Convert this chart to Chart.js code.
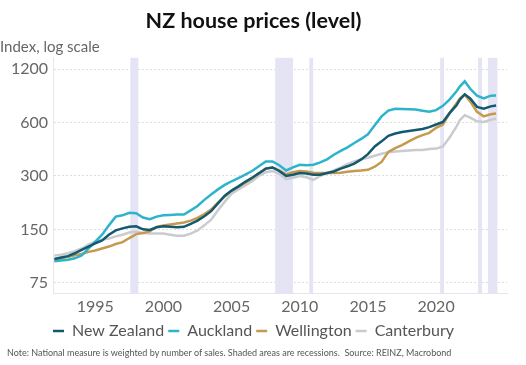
<!DOCTYPE html>
<html>
<head>
<meta charset="utf-8">
<script src="https://cdn.jsdelivr.net/npm/chart.js@4"></script>
<style>
  body { margin: 0; background: #fff; }
  #wrap { position: relative; width: 526px; height: 365px; }
  #note { position: absolute; left: 7px; top: 347px; font: 9px Lato, sans-serif; color: #555; white-space: nowrap; }
</style>
</head>
<body>
<div id="wrap">
  <canvas id="myChart" width="526" height="365"></canvas>
  <div id="note">Note: National measure is weighted by number of sales. Shaded areas are recessions.&nbsp; Source: REINZ, Macrobond</div>
</div>
<script>
// decimal years of the read-off points
var years = [1992.0, 1992.5, 1993.0, 1993.5, 1994.0, 1994.5, 1995.0, 1995.5, 1996.0, 1996.5,
  1997.0, 1997.5, 1998.0, 1998.5, 1999.0, 1999.5, 2000.0, 2000.5, 2001.0, 2001.5,
  2002.0, 2002.5, 2003.0, 2003.5, 2004.0, 2004.5, 2005.0, 2005.5, 2006.0, 2006.5,
  2007.0, 2007.5, 2008.0, 2008.5, 2009.0, 2009.5, 2010.0, 2010.5, 2011.0, 2011.5,
  2012.0, 2012.5, 2013.0, 2013.5, 2014.0, 2014.5, 2015.0, 2015.5, 2016.0, 2016.5,
  2017.0, 2017.5, 2018.0, 2018.5, 2019.0, 2019.5, 2020.0, 2020.5, 2021.0, 2021.5,
  2021.75, 2022.1, 2022.5, 2023.0, 2023.5, 2024.0, 2024.4];

var newZealand = [102, 104, 106, 110, 115, 120, 125, 130, 140, 148,
  152, 155, 156, 150, 149, 154, 156, 155, 154, 155,
  161, 168, 178, 190, 210, 232, 248, 262, 278, 293,
  310, 330, 335, 320, 300, 305, 312, 310, 305, 305,
  312, 318, 330, 340, 352, 372, 398, 440, 470, 505,
  520, 530, 538, 545, 552, 565, 585, 605, 680, 750,
  810, 865, 820, 735, 718, 740, 748];

var auckland = [99, 100, 101, 103, 107, 117, 128, 140, 158, 177,
  180, 186, 185, 175, 171, 177, 180, 181, 182, 182,
  192, 203, 220, 236, 252, 267, 280, 292, 305, 320,
  340, 362, 362, 345, 322, 335, 347, 345, 347, 358,
  372, 395, 415, 435, 460, 485, 515, 580, 650, 700,
  718, 715, 712, 710, 700, 690, 705, 745, 810, 900,
  960, 1025, 930, 850, 820, 850, 852];

var wellington = [100, 103, 105, 107, 109, 112, 114, 117, 120, 124,
  127, 134, 141, 143, 146, 155, 158, 160, 162, 164,
  168, 174, 183, 194, 212, 230, 248, 260, 275, 290,
  312, 330, 335, 322, 306, 315, 320, 318, 313, 312,
  312, 312, 313, 317, 320, 322, 325, 338, 360, 410,
  430, 448, 470, 492, 510, 525, 560, 585, 680, 770,
  820, 862, 790, 690, 650, 668, 675];

var canterbury = [107, 108, 110, 113, 117, 123, 128, 131, 133, 137,
  140, 144, 146, 143, 142, 142, 142, 140, 138, 138,
  142, 148, 158, 170, 192, 215, 238, 252, 265, 280,
  300, 315, 320, 308, 288, 293, 300, 295, 285, 300,
  310, 322, 335, 350, 362, 372, 380, 390, 400, 408,
  412, 415, 418, 420, 420, 425, 428, 440, 495, 570,
  620, 660, 640, 610, 605, 622, 632];

// recessions (shaded)
var recessionStart = [1997.57, 2008.2, 2010.7, 2020.3, 2023.08, 2023.8];
var recessionEnd   = [1998.16, 2009.5, 2010.98, 2020.58, 2023.37, 2024.5];

var xTicks = [1995, 2000, 2005, 2010, 2015, 2020];
var yTicks = [75, 150, 300, 600, 1200];

function pts(vals) {
    var out = [];
    for (let i = 0; i < years.length; i++) {
        out.push({ x: years[i], y: vals[i] });
    }
    return out;
}

const recessionBands = {
    id: 'recessionBands',
    beforeDatasetsDraw(chart) {
        const ctx = chart.ctx, xs = chart.scales.x, area = chart.chartArea;
        ctx.save();
        ctx.fillStyle = '#e4e4f4';
        for (let i = 0; i < recessionStart.length; i++) {
            const a = xs.getPixelForValue(recessionStart[i]);
            const b = xs.getPixelForValue(recessionEnd[i]);
            ctx.fillRect(a, area.top, b - a, area.bottom - area.top);
        }
        ctx.restore();
    }
};

let myChart = document.getElementById("myChart").getContext('2d');

const lineChart = new Chart(myChart, {
    type: "line",
    data: {
        datasets: [{
            label: 'New Zealand',
            data: pts(newZealand),
            borderColor: "#135a70",
            backgroundColor: "#135a70"
        }, {
            label: 'Auckland',
            data: pts(auckland),
            borderColor: "#2db4cb",
            backgroundColor: "#2db4cb"
        }, {
            label: 'Wellington',
            data: pts(wellington),
            borderColor: "#c59a4e",
            backgroundColor: "#c59a4e"
        }, {
            label: 'Canterbury',
            data: pts(canterbury),
            borderColor: "#c9cbcf",
            backgroundColor: "#c9cbcf"
        }]
    },
    options: {
        responsive: false,
        animation: false,
        layout: { padding: { left: 0, right: 19, top: 0, bottom: 16 } },
        datasets: { line: { borderWidth: 2.5, pointRadius: 0, tension: 0 } },
        scales: {
            x: {
                type: 'linear',
                min: 1991.9,
                max: 2025.2,
                afterBuildTicks: scale => { scale.ticks = xTicks.map(v => ({ value: v })); },
                grid: { display: false, drawTicks: false },
                border: { color: '#e6e6ea', width: 1 },
                ticks: {
                    padding: 3,
                    color: '#666',
                    font: { family: 'Lato', size: 16 },
                    callback: v => String(v)
                }
            },
            y: {
                type: 'logarithmic',
                min: 65,
                max: 1390,
                afterBuildTicks: scale => { scale.ticks = yTicks.map(v => ({ value: v })); },
                afterFit: scale => { scale.width = 53; },
                grid: { color: '#dedede', drawTicks: false },
                border: { color: '#e6e6ea', width: 1, dash: [2, 2] },
                ticks: {
                    padding: 5,
                    color: '#666',
                    font: { family: 'Lato', size: 16 },
                    callback: v => String(v)
                }
            }
        },
        plugins: {
            title: {
                display: true,
                text: 'NZ house prices (level)',
                color: '#111',
                font: { family: 'Lato', size: 21.5, weight: 'bold' },
                padding: { top: 8, bottom: 4 }
            },
            subtitle: {
                display: true,
                text: 'Index, log scale',
                align: 'start',
                color: '#666',
                font: { family: 'Lato', size: 15 },
                padding: { top: 0, bottom: 2 }
            },
            legend: {
                position: 'bottom',
                labels: {
                    usePointStyle: true,
                    pointStyle: 'line',
                    pointStyleWidth: 11,
                    boxHeight: 3,
                    padding: 4,
                    color: '#555',
                    font: { family: 'Lato', size: 16 }
                }
            },
            tooltip: { enabled: false }
        }
    },
    plugins: [recessionBands]
});
</script>
</body>
</html>
